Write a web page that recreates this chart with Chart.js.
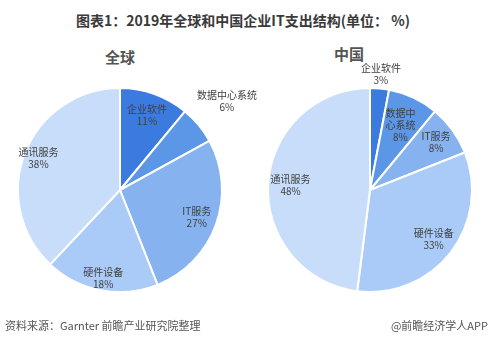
<!DOCTYPE html>
<html>
<head>
<meta charset="utf-8">
<script src="https://cdn.jsdelivr.net/npm/chart.js@4.4.1/dist/chart.umd.min.js"></script>
<style>
  html, body { margin: 0; padding: 0; background: #fff; }
  body { width: 496px; height: 339px; position: relative; overflow: hidden; font-family: "Noto Sans CJK SC", "Noto Sans", sans-serif; }
  .title { position: absolute; top: 10px; left: 0; width: 486px; text-align: center; font-size: 14px; font-weight: bold; color: #3a3a3a; }
  .sub { position: absolute; font-size: 15px; font-weight: bold; color: #555; }
  .foot { position: absolute; top: 317px; font-size: 11px; color: #555; }
  .box { position: absolute; top: 60px; width: 248px; height: 260px; }
</style>
</head>
<body>
<div class="title">图表1：2019年全球和中国企业IT支出结构(单位： %)</div>
<div class="sub" style="left:105px; top:46px;">全球</div>
<div class="sub" style="left:334px; top:43px;">中国</div>
<div class="box" style="left:0; width:272px;"><canvas id="global-chart"></canvas></div>
<div class="box" style="left:248px;"><canvas id="china-chart"></canvas></div>
<div class="foot" style="left:5px;">资料来源：Garnter 前瞻产业研究院整理</div>
<div class="foot" style="right:8px;">@前瞻经济学人APP</div>
<script>
const categories = ['企业软件', '数据中心系统', 'IT服务', '硬件设备', '通讯服务'];
const globalValues = [11, 6, 27, 18, 38];
const chinaValues = [3, 8, 8, 33, 48];
const sliceColors = ['#3b7be0', '#5c97e7', '#86b3f0', '#aacbf7', '#c7ddfa'];

// 标签位置（半径系数）和换行
const globalLabelPos = [0.78, 1.36, 0.8, 0.88, 0.86];
const chinaLabelPos = [1.14, 0.7, 0.8, 0.79, 0.78];
const globalLabelLines = [['企业软件'], ['数据中心系统'], ['IT服务'], ['硬件设备'], ['通讯服务']];
const chinaLabelLines = [['企业软件'], ['数据中', '心系统'], ['IT服务'], ['硬件设备'], ['通讯服务']];

const sliceLabels = {
    id: 'sliceLabels',
    afterDatasetsDraw(chart, args, opts) {
        const ctx = chart.ctx;
        const meta = chart.getDatasetMeta(0);
        const values = chart.data.datasets[0].data;
        ctx.save();
        ctx.font = '10px "Noto Sans CJK SC", sans-serif';
        ctx.fillStyle = '#404040';
        ctx.textAlign = 'center';
        ctx.textBaseline = 'middle';
        meta.data.forEach(function(arc, i) {
            const mid = (arc.startAngle + arc.endAngle) / 2;
            const r = arc.outerRadius * opts.pos[i];
            const x = arc.x + Math.cos(mid) * r;
            const y = arc.y + Math.sin(mid) * r;
            const lines = opts.lines[i].concat([values[i] + '%']);
            const lh = 12;
            const y0 = y - (lines.length - 1) * lh / 2;
            lines.forEach(function(t, k) {
                ctx.fillText(t, x, y0 + k * lh);
            });
        });
        ctx.restore();
    }
};

function makePie(id, values, pos, lines, padding) {
    return new Chart(document.getElementById(id), {
        type: 'pie',
        data: {
            labels: categories,
            datasets: [{
                data: values,
                backgroundColor: sliceColors,
                borderColor: '#ffffff',
                borderWidth: 2
            }]
        },
        options: {
            responsive: true,
            maintainAspectRatio: false,
            animation: false,
            layout: { padding: padding },
            plugins: {
                legend: { display: false },
                tooltip: { enabled: false },
                sliceLabels: { pos: pos, lines: lines }
            }
        },
        plugins: [sliceLabels]
    });
}

makePie('global-chart', globalValues, globalLabelPos, globalLabelLines, { left: 17, right: 49, top: 27, bottom: 27 });
makePie('china-chart', chinaValues, chinaLabelPos, chinaLabelLines, { left: 19, right: 23, top: 27, bottom: 27 });
</script>
</body>
</html>
